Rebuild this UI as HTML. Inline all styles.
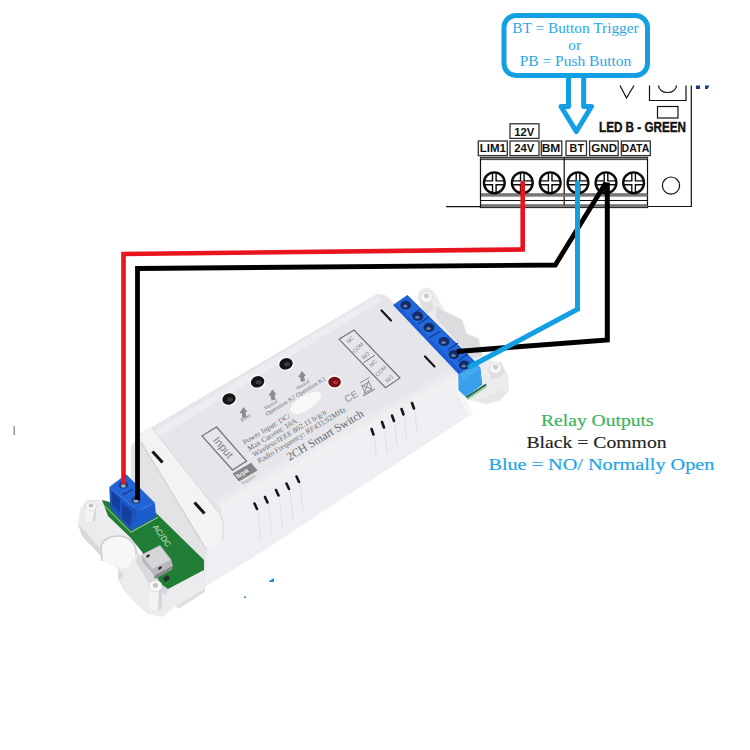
<!DOCTYPE html>
<html><head><meta charset="utf-8">
<style>
html,body{margin:0;padding:0;background:#fff;width:750px;height:750px;overflow:hidden}
svg{display:block;position:absolute;left:0;top:0}
</style></head>
<body>
<svg width="750" height="750" viewBox="0 0 750 750">
<defs>
<linearGradient id="gBar" x1="0" y1="0" x2="0" y2="1">
<stop offset="0" stop-color="#222"/><stop offset="0.5" stop-color="#9a9a9a"/><stop offset="1" stop-color="#444"/>
</linearGradient>
<linearGradient id="gFace" gradientUnits="userSpaceOnUse" x1="329.2" y1="433.3" x2="339.8" y2="452.6">
<stop offset="0" stop-color="#e6e6ea"/><stop offset="0.6" stop-color="#f1f1f4"/><stop offset="1" stop-color="#eeeff2"/>
</linearGradient>
</defs>
<rect width="750" height="750" fill="#fff"/>

<!-- ===== Board schematic (top right) ===== -->
<g id="board" fill="none" stroke="#111">
  <!-- board outline -->
  <line x1="691.3" y1="85.5" x2="691.3" y2="207" stroke-width="1.2"/>
  <line x1="647" y1="206.5" x2="691.8" y2="206.5" stroke-width="1.2"/>
  <line x1="446" y1="206.6" x2="481" y2="206.6" stroke-width="1.2"/>
  <!-- V -->
  <polyline points="620,85.5 626.5,98 634,85.5" stroke-width="1.2"/>
  <!-- open rect with arc -->
  <polyline points="649.5,85.5 649.5,100.5 686,100.5 686,85.5" stroke-width="1.2"/>
  <path d="M658.5,85.5 A9,7 0 0 0 676.5,85.5" stroke-width="1.2"/>
  <rect x="657.5" y="106.5" width="20.5" height="11.5" stroke-width="1.2"/>
  <circle cx="671" cy="185.6" r="8.6" stroke-width="1.2"/>
  <!-- terminal block -->
  <rect x="480.5" y="157.5" width="167" height="50" stroke-width="1.2"/>
  <rect x="480.5" y="157.3" width="167" height="2.4" fill="#888" stroke="#222" stroke-width="0.8"/>
  <line x1="564.2" y1="158" x2="564.2" y2="207.5" stroke-width="1.2"/>
  <rect x="481" y="193.5" width="166.5" height="3" fill="url(#gBar)" stroke="none"/>
  <line x1="481" y1="200.5" x2="647.5" y2="200.5" stroke-width="1"/>
  <rect x="481" y="204.5" width="166.5" height="3" fill="url(#gBar)" stroke="none"/>
  <!-- screws -->
  <g id="screw" stroke-width="1.8">
  </g>
</g>
<g id="screws" fill="#fff" stroke="#0a0a0a">
  <g transform="translate(494.3,182.8)"><circle r="10.4" stroke-width="2.4"/><path d="M-1.8,-10 V-1.9 H-9.8 M1.8,-10 V-1.9 H9.8 M-1.8,10 V1.9 H-9.8 M1.8,10 V1.9 H9.8" fill="none" stroke-width="1.4"/></g>
  <g transform="translate(522.3,182.8)"><circle r="10.4" stroke-width="2.4"/><path d="M-1.8,-10 V-1.9 H-9.8 M1.8,-10 V-1.9 H9.8 M-1.8,10 V1.9 H-9.8 M1.8,10 V1.9 H9.8" fill="none" stroke-width="1.4"/></g>
  <g transform="translate(550.2,182.8)"><circle r="10.4" stroke-width="2.4"/><path d="M-1.8,-10 V-1.9 H-9.8 M1.8,-10 V-1.9 H9.8 M-1.8,10 V1.9 H-9.8 M1.8,10 V1.9 H9.8" fill="none" stroke-width="1.4"/></g>
  <g transform="translate(578,182.8)"><circle r="10.4" stroke-width="2.4"/><path d="M-1.8,-10 V-1.9 H-9.8 M1.8,-10 V-1.9 H9.8 M-1.8,10 V1.9 H-9.8 M1.8,10 V1.9 H9.8" fill="none" stroke-width="1.4"/></g>
  <g transform="translate(606,182.8)"><circle r="10.4" stroke-width="2.4"/><path d="M-1.8,-10 V-1.9 H-9.8 M1.8,-10 V-1.9 H9.8 M-1.8,10 V1.9 H-9.8 M1.8,10 V1.9 H9.8" fill="none" stroke-width="1.4"/></g>
  <g transform="translate(633.6,182.8)"><circle r="10.4" stroke-width="2.4"/><path d="M-1.8,-10 V-1.9 H-9.8 M1.8,-10 V-1.9 H9.8 M-1.8,10 V1.9 H-9.8 M1.8,10 V1.9 H9.8" fill="none" stroke-width="1.4"/></g>
</g>
<!-- label boxes -->
<g fill="#fff" stroke="#333" stroke-width="1.3">
  <rect x="510" y="123.8" width="29" height="14.6"/>
  <rect x="478.3" y="141" width="29" height="14.6"/>
  <rect x="510" y="141" width="29" height="14.6"/>
  <rect x="541.3" y="141" width="20.5" height="14.6"/>
  <rect x="566" y="141" width="20.5" height="14.6"/>
  <rect x="589.6" y="141" width="28.6" height="14.6"/>
  <rect x="621.3" y="141" width="29" height="14.6"/>
</g>
<g font-family="Liberation Sans, sans-serif" font-weight="700" font-size="11.5" fill="#111">
  <text x="514.3" y="135.7" textLength="20" lengthAdjust="spacingAndGlyphs">12V</text>
  <text x="479.7" y="152" textLength="26.3" lengthAdjust="spacingAndGlyphs">LIM1</text>
  <text x="514.3" y="152" textLength="20" lengthAdjust="spacingAndGlyphs">24V</text>
  <text x="541.7" y="152" textLength="18.6" lengthAdjust="spacingAndGlyphs">BM</text>
  <text x="569.6" y="152" textLength="14.4" lengthAdjust="spacingAndGlyphs">BT</text>
  <text x="591.3" y="152" textLength="25.7" lengthAdjust="spacingAndGlyphs">GND</text>
  <text x="621.6" y="152" textLength="27.7" lengthAdjust="spacingAndGlyphs">DATA</text>
  <text x="599" y="131.8" font-size="13.8" textLength="87" lengthAdjust="spacingAndGlyphs" stroke="#111" stroke-width="0.4">LED B - GREEN</text>
</g>

<!-- ===== Callout ===== -->
<g fill="none" stroke="#139fe4" stroke-width="5">
  <rect x="504" y="15.5" width="143.5" height="60" rx="12" ry="12" fill="#fff"/>
  <path d="M568.5,77.5 V106.5 H561 L576.3,131.5 L591.5,106.5 H583.7 V77.5" stroke-linejoin="round"/>
</g>
<g font-family="Liberation Serif, serif" font-size="15.3" fill="#2aa8e6">
  <text x="512.3" y="32.7" textLength="126.4" lengthAdjust="spacingAndGlyphs">BT = Button Trigger</text>
  <text x="568.3" y="50">or</text>
  <text x="519.7" y="66.3" textLength="111.6" lengthAdjust="spacingAndGlyphs">PB = Push Button</text>
</g>

<!-- ===== Relay text ===== -->
<g font-family="Liberation Serif, serif" font-size="17.2">
  <text x="541" y="426.4" fill="#3cb55c" stroke="#3cb55c" stroke-width="0.2" textLength="112.6" lengthAdjust="spacingAndGlyphs">Relay Outputs</text>
  <text x="526.4" y="448" fill="#1e1e1e" stroke="#1e1e1e" stroke-width="0.15" textLength="140.2" lengthAdjust="spacingAndGlyphs">Black = Common</text>
  <text x="488.4" y="469.7" fill="#1ea6e8" stroke="#1ea6e8" stroke-width="0.2" textLength="226" lengthAdjust="spacingAndGlyphs">Blue = NO/ Normally Open</text>
</g>

<!-- DEVICE -->
<rect x="13.5" y="426" width="1.5" height="9" fill="#9a9a9e"/>
<path d="M269,581 L274,578 L274,582 L269,582 Z" fill="#1a8fe0"/>
<rect x="244" y="596.5" width="2" height="1.5" fill="#1a8fe0"/>
<path d="M696,85.5 H700 V89 H696 Z M705,85.5 H709.5 L707.5,89 H705 Z" fill="#1d3a8a"/>
<g id="device">
  <!-- right ear -->
  <path d="M417,298 L419,291 L426,287 L433,290 L445,311 L462,319 L467,333 L479,338 L483,355 L491,361 L502,364 L508,374 L509,391 L500,401 L486,404 L468,400 L460,392 Z" fill="#ececef"/>
  <path d="M436,306 L445,312 L462,320 L466,334 L478,339 L482,356 L472,358 L452,336 L436,318 Z" fill="#dcdcdf"/>
  
  <path d="M420,300 L432,300 L434,311 L424,314 Z" fill="#e0e0e2"/>
  <ellipse cx="426.5" cy="297" rx="6" ry="5.5" fill="#f8f8f8" stroke="#d8d8da" stroke-width="0.8"/>
  <ellipse cx="426.5" cy="296" rx="2.8" ry="2.4" fill="#cfcfd2"/>
  <path d="M488,368 L501,362 L505,374 L492,380 Z" fill="#dedee0"/>
  <ellipse cx="495.5" cy="368" rx="6" ry="5.5" fill="#f8f8f8" stroke="#d8d8da" stroke-width="0.8"/>
  <ellipse cx="495.5" cy="367" rx="2.8" ry="2.4" fill="#cfcfd2"/>
  <path d="M478,400 L502,390 L506,392 L500,400 L488,403 Z" fill="#e6e6e9"/>
  <!-- body main silhouette -->
  <path d="M131,446 L140,434 L377,294 L385,295 L394,303 L460,374 L460,392 L466,400 L473,413 L247,561 L212,582 L204,588 L204,562 L156,516 L131,482 Z" fill="#e6e6ea"/>
  <!-- top surface + front face with soft edge -->
  <path d="M150,436 L377,297 L392,306 L458,376 L466,400 L473,413 L247,561 L212,582 L205,586 L206,556 L222,508 Z" fill="url(#gFace)"/>
  <!-- rounded top-back edge highlight -->
  <path d="M146,436 L377,296 L381,301 L153,441 Z" fill="#efeff2" opacity="0.8"/>
  <!-- right end face -->
  <path d="M458,376 L460,392 L466,400 L473,413 L468,415 L456,390 Z" fill="#f6f6f8"/>
  <!-- vent ridges -->
  <g stroke="#e2e2e4" stroke-width="1.2">
    <line x1="258" y1="512" x2="261" y2="540"/><line x1="268.5" y1="505" x2="271.5" y2="534"/>
    <line x1="279.5" y1="498" x2="282.5" y2="527"/><line x1="290" y1="491" x2="293" y2="520"/>
    <line x1="300" y1="484" x2="303" y2="513"/>
    <line x1="374.5" y1="437" x2="376.5" y2="458"/><line x1="385" y1="430" x2="387" y2="452"/>
    <line x1="395" y1="423.5" x2="397" y2="445"/><line x1="404.5" y1="417" x2="406.5" y2="439"/>
    <line x1="415" y1="411" x2="417" y2="433"/>
  </g>
  <!-- left lip -->
  <path d="M131,446 L141,438 L141,442 L206,549 L204,562 L156,514 L131,480 Z" fill="#e3e3e5"/>
  <path d="M140,436 L146,429 L152,428 L220,514 L223,522 L223,540 L217,548 L206,549 L141,442 Z" fill="#f3f3f4"/>
  <path d="M141,442 L206,549" stroke="#d2d2d5" stroke-width="1.3" fill="none"/>
  <path d="M152,428 L220,514 L223,522 L223,540" stroke="#dcdcdf" stroke-width="1.2" fill="none"/>
  <!-- slots on lip -->
  <g stroke="#141414" stroke-width="3" stroke-linecap="butt">
    <line x1="152.5" y1="451.5" x2="162.5" y2="462.5"/>
    <line x1="194.5" y1="502.5" x2="204.5" y2="513.5"/>
  </g>
  <!-- top slots near strip -->
  <g stroke="#161616" stroke-width="2.2" stroke-linecap="round">
    <line x1="381.5" y1="310.5" x2="391" y2="320.5"/>
    <line x1="425" y1="356.5" x2="434.5" y2="366.5"/>
  </g>
  <!-- vent slots front -->
  <g stroke="#161616" stroke-width="2.6" stroke-linecap="round">
    <line x1="254.5" y1="503.5" x2="257" y2="509"/>
    <line x1="265" y1="497" x2="267.5" y2="502.5"/>
    <line x1="276" y1="490" x2="278.5" y2="495.5"/>
    <line x1="286.5" y1="483.5" x2="289" y2="489"/>
    <line x1="296.5" y1="476.5" x2="299" y2="482"/>
    <line x1="371.5" y1="429" x2="373.5" y2="434.5"/>
    <line x1="382" y1="422" x2="384" y2="427.5"/>
    <line x1="392" y1="415.5" x2="394" y2="421"/>
    <line x1="401.5" y1="409" x2="403.5" y2="414.5"/>
    <line x1="412" y1="403" x2="414" y2="408.5"/>
  </g>

  <!-- buttons -->
  <g fill="#f6f6f7">
    <ellipse cx="229" cy="399" rx="8.4" ry="7.2"/>
    <ellipse cx="257.6" cy="381.8" rx="8.4" ry="7.2"/>
    <ellipse cx="286" cy="363.8" rx="8.4" ry="7.2"/>
  </g>
  <g fill="#141416">
    <ellipse cx="229" cy="399" rx="6.8" ry="5.6" transform="rotate(-20 229 399)"/>
    <ellipse cx="257.6" cy="381.8" rx="6.8" ry="5.6" transform="rotate(-20 257.6 381.8)"/>
    <ellipse cx="286" cy="363.8" rx="6.8" ry="5.6" transform="rotate(-20 286 363.8)"/>
  </g>
  <g fill="#3a3a3e">
    <ellipse cx="230" cy="399.5" rx="3" ry="2.2"/>
    <ellipse cx="258.6" cy="382.3" rx="3" ry="2.2"/>
    <ellipse cx="287" cy="364.3" rx="3" ry="2.2"/>
  </g>
  <ellipse cx="334.6" cy="382" rx="8" ry="7" fill="#f7f7f7"/>
  <ellipse cx="334.6" cy="382" rx="6.3" ry="5.3" fill="#7c0d16"/>
  <ellipse cx="335.5" cy="382.5" rx="2.6" ry="1.8" fill="#a8343c"/>
  <!-- smudge -->
  <path d="M290,408 C296,398 312,390 320,392 C324,396 318,404 306,411 C298,416 290,415 290,408 Z" fill="#f8f8f9"/>
  <!-- arrows -->
  <g fill="#8c8c90">
    <path d="M243.5,407 L247.5,412 L245.5,412 L246.5,417 L242.5,418 L241.5,413 L239.5,413 Z"/>
    <path d="M272.5,389.5 L276.5,394.5 L274.5,394.5 L275.5,399.5 L271.5,400.5 L270.5,395.5 L268.5,395.5 Z"/>
    <path d="M302,371 L306,376 L304,376 L305,381 L301,382 L300,377 L298,377 Z"/>
  </g>
  <!-- label rect on device -->
  <path d="M339,339.2 L354,330 L400,378 L385.5,387.7 Z" fill="none" stroke="#707074" stroke-width="1.1"/>
  <line x1="363.6" y1="362.7" x2="374.8" y2="355.2" stroke="#707074" stroke-width="1"/>
  <g font-family="Liberation Sans, sans-serif" font-size="5.5" fill="#86868a" text-anchor="middle">
    <text transform="translate(351.5,341) rotate(-45)">NC</text>
    <text transform="translate(359.3,349) rotate(-45)">COM</text>
    <text transform="translate(367,356.8) rotate(-45)">NO</text>
    <text transform="translate(374.3,364.6) rotate(-45)">NC</text>
    <text transform="translate(382.1,372.4) rotate(-45)">COM</text>
    <text transform="translate(390.5,380.2) rotate(-45)">NO</text>
  </g>
  <!-- CE + bin -->
  <text transform="translate(347,403) rotate(-31)" font-family="Liberation Sans, sans-serif" font-size="10" fill="#8a8a8e">CE</text>
  <path d="M362,386 L369,382 L372,389 L365,393 Z M360,383 L370,377 M361,385 L372,389 M369,380 L364,394" fill="none" stroke="#8e8e92" stroke-width="1"/>
  <line x1="363" y1="396" x2="375" y2="389" stroke="#8a8a8e" stroke-width="1.2"/>
  <!-- Input box -->
  <path d="M202,436 L216.5,427 L246.5,461 L232.5,470 Z" fill="none" stroke="#7c7c80" stroke-width="1.4"/>
  <text transform="translate(212.5,440.5) rotate(50)" font-family="Liberation Sans, sans-serif" font-size="11" fill="#808084">Input</text>
  <!-- tuya badge -->
  <path d="M233.3,473.7 L251,463.4 L256.6,470.4 L238.9,480.7 Z" fill="#858589" stroke="#858589" stroke-width="1.2" stroke-linejoin="round"/>
  <text transform="translate(237.5,478.5) rotate(-31)" font-family="Liberation Sans, sans-serif" font-size="6.5" font-weight="700" fill="#f4f4f4">tuya</text>
  <text transform="translate(242.5,485) rotate(-31)" font-family="Liberation Serif, serif" font-size="5" fill="#8e8e92">Support</text>
  <!-- device texts -->
  <g font-family="Liberation Serif, serif" fill="#727276">
    <g transform="translate(244.5,445) rotate(-31)" font-size="7.6" fill="#6c6c70">
      <text x="0" y="0">Power Input:  DC/</text>
      <text x="1" y="7.8">Max Current:  10A</text>
      <text x="2" y="15.6">Wireless:IEEE 802.11 b/g/n</text>
      <text x="3" y="23.4">Radio Frequency:  RF433.92MHz</text>
    </g>
    <text transform="translate(241.5,422) rotate(-32)" font-size="5">Reset</text>
    <text transform="translate(265,410) rotate(-32)" font-size="5">Manual</text>
    <text transform="translate(267,416) rotate(-31.5)" font-size="6.2">Operation K2  Operation K1</text>
    <text transform="translate(297,390) rotate(-32)" font-size="5">Manual</text>
    <text transform="translate(289.5,461) rotate(-31)" font-size="11.6" fill="#68686c">2CH Smart Switch</text>
  </g>

  <!-- blue terminal strip right -->
  <path d="M393,305 L407.4,295 L475.5,362 L480.2,367.7 L482,384.5 L466,396.7 L458.7,390 L458.7,374.3 Z" fill="#1b5dd2"/>
  <path d="M397,304 L407.4,297 L474,362 L461,371 Z" fill="#2268de"/>
  <path d="M458.7,374.3 L475.5,362 L480.2,367.7 L482,384.5 L466,396.7 L458.7,390 Z" fill="#38a0ec"/>
  <path d="M460,375 L476,364 L480,369 L464,380 Z" fill="#46aaf0"/>
  <g stroke="#123f9a" stroke-width="1.4">
    <line x1="412" y1="315" x2="420" y2="309"/><line x1="418" y1="324" x2="428.6" y2="317.4"/>
    <line x1="429.4" y1="337.4" x2="440" y2="331.4"/><line x1="448" y1="350" x2="458" y2="343"/>
    <line x1="458" y1="361" x2="468" y2="354"/>
  </g>
  <g fill="#142c66">
    <ellipse cx="405.8" cy="305" rx="5.4" ry="4.6"/><ellipse cx="417.8" cy="316.2" rx="5.4" ry="4.6"/><ellipse cx="429" cy="327.4" rx="5.4" ry="4.6"/>
    <ellipse cx="444" cy="341.5" rx="5.4" ry="4.6"/><ellipse cx="454" cy="354.6" rx="5.4" ry="4.6"/><ellipse cx="464.3" cy="365" rx="5.4" ry="4.6"/>
  </g>
  <g fill="#6a7ca4">
    <ellipse cx="405.3" cy="306" rx="2.2" ry="1.5"/><ellipse cx="417.3" cy="317.2" rx="2.2" ry="1.5"/><ellipse cx="428.5" cy="328.4" rx="2.2" ry="1.5"/>
    <ellipse cx="443.5" cy="342.5" rx="2.2" ry="1.5"/><ellipse cx="453.5" cy="355.6" rx="2.2" ry="1.5"/><ellipse cx="463.8" cy="366" rx="2.2" ry="1.5"/>
  </g>
  <path d="M466,396.7 L485.8,383.6 L486.5,385.5 L467,398.5 Z" fill="#1f6a40"/><path d="M467,398.5 L486.5,385.5 L487,387 L468,400 Z" fill="#9fd0b0"/>

  <!-- left ear -->
  <path d="M86,500 L104,500 L110,516 L132,538 L140,556 L146,570 L152,582 L165,594 L168,612 L158,616 L146,612 L134,600 L124,590 L118,578 L118,569 L108,562 L98,553 L82,536 L78,524 L80,510 Z" fill="#ececee"/>
  <path d="M78,524 L82,536 L98,553 L108,562 L104,552 L96,544 L84,530 Z" fill="#d9d9dc"/>
  <path d="M118,569 L118,578 L124,590 L134,600 L146,612 L158,616 L168,612 L150,606 L136,594 L126,582 L122,572 Z" fill="#dcdcdf"/>
  <path d="M104,500 L110,516 L132,538 L138,550 L126,532 L108,512 Z" fill="#d6d6d9"/>
  <path d="M102,561 L101,548 C101,540 110,536 118,536 C127,536 136,542 136,552 L137,563 L122,569 Z" fill="#f7f7f8"/>
  <path d="M102,561 L101,548 C101,540 110,536 118,536 C127,536 136,542 136,552 L137,563" fill="none" stroke="#cdcdd0" stroke-width="1.6"/>
  <path d="M137,563 L142,566 L150,583 L160,592" fill="none" stroke="#d4d4d7" stroke-width="1.4"/>
  <path d="M86,507 L96,507 L96,520 Q91,523 86,520 Z" fill="#f4f4f5"/>
  <path d="M95,507 L96,507 L96,520 Q94,522 92,522 Z" fill="#dcdcdf"/>
  <ellipse cx="91" cy="506" rx="5.3" ry="4.6" fill="#f9f9f9" stroke="#d6d6d8" stroke-width="0.8"/>
  <ellipse cx="91" cy="505.5" rx="2.4" ry="2.1" fill="#cbbfb5"/>
  <!-- shell under pcb -->
  <path d="M138,552 L150,572 L168,589 L204,570 L205,588 L176,606 L162,617 L148,614 L136,604 L126,592 L120,580 Z" fill="#ececef"/>
  <path d="M138,552 L150,572 L168,589 L166,596 L148,582 L136,562 Z" fill="#d9d9dd"/>
  <path d="M176,606 L205,588 L205,592 L178,609 Z" fill="#dedee2"/>
  <!-- left green pcb -->
  <path d="M102,500 L110,502 L156,513 L204,560 L204,570 L168,589 L161,584 L150,566 L142,552 L131,538 L108,516 Z" fill="#1f7d36"/>
  
  
  <text transform="translate(152.5,527) rotate(55)" font-family="Liberation Sans, sans-serif" font-size="8" fill="#cfe8cf">AC/DC</text>
  <!-- micro usb -->
  <path d="M141,555 L160,545 L171,559 L173,566 L154,576 L143,562 Z" fill="#b8b8bc"/>
  <path d="M142,555 L160,546 L170,560 L152,569 Z" fill="#d6d6d9"/>
  <path d="M146,556 L149,554 L150,556 L147,558 Z M158,568 L161,566 L162,568 L159,570 Z" fill="#2a2a2a"/>
  <path d="M154,576 L173,566 L172,570 L155,579 Z" fill="#8a8a8e"/>
  <!-- bottom post -->
  <path d="M149,586 L162,586 L162,608 Q155.5,612 149,608 Z" fill="#f3f3f5"/>
  <path d="M159,586 L162,586 L162,608 Q160,610 158,610 Z" fill="#d6d6da"/>
  <ellipse cx="155.5" cy="586" rx="6.5" ry="5.5" fill="#f9f9fa" stroke="#d4d4d7" stroke-width="0.8"/>
  <ellipse cx="155.5" cy="585.5" rx="2.8" ry="2.4" fill="#cdc3ba"/>
  <path d="M163,578 L168,575 L170,579 L165,582 Z" fill="#2a2a2a"/>
  <!-- left blue terminal -->
  <path d="M109.3,487 L126.2,474.3 L155,503 L137.4,511 Z" fill="#2264d6"/>
  <path d="M109.3,487 L137.4,511 L131,530.4 L110.3,508 Z" fill="#1a54c2"/>
  <path d="M137.4,511 L155,503 L156,517.3 L131,530.4 Z" fill="#1d5ccc"/>
  <path d="M112,492 L120,499 L120,512 L112,505 Z" fill="#143f9c"/>
  <path d="M122,503 L132,512 L130,526 L122,518 Z" fill="#143f9c"/>
  <path d="M122.4,494.9 L132.7,489.3" stroke="#153f98" stroke-width="1.5"/>
  <ellipse cx="123.4" cy="485" rx="4.6" ry="3.8" fill="#1a3a78"/>
  <ellipse cx="123.4" cy="486" rx="2.6" ry="1.8" fill="#9aa6c0"/>
  <ellipse cx="136" cy="500" rx="4.6" ry="3.8" fill="#1a3a78"/>
  <ellipse cx="136" cy="501" rx="2.6" ry="1.8" fill="#9aa6c0"/>
  <polyline points="102.8,504 130.8,532.3 158,517.3" fill="none" stroke="#b8dcb8" stroke-width="0.9"/>
</g>
<!-- ===== Wires ===== -->
<g fill="none" stroke-linecap="butt" stroke-linejoin="miter">
  <polyline stroke="#e8151f" stroke-width="4.6" points="522.7,182.5 522.7,249.5 123.5,254 123.5,484"/>
  <polyline stroke="#000" stroke-width="4.8" points="606,182.5 555.3,265 137.5,268.5 137.5,500"/>
  <polyline stroke="#000" stroke-width="5" points="607.3,182.5 607.3,340 456.8,351.4"/>
  <polyline stroke="#12a0e4" stroke-width="5" points="577.5,182.5 577.5,309.3 468,367.7"/>
</g>
<circle cx="522.7" cy="182.8" r="2.3" fill="#e8151f"/>
<circle cx="577.5" cy="182.8" r="2.5" fill="#12a0e4"/>
</svg>
</body></html>
